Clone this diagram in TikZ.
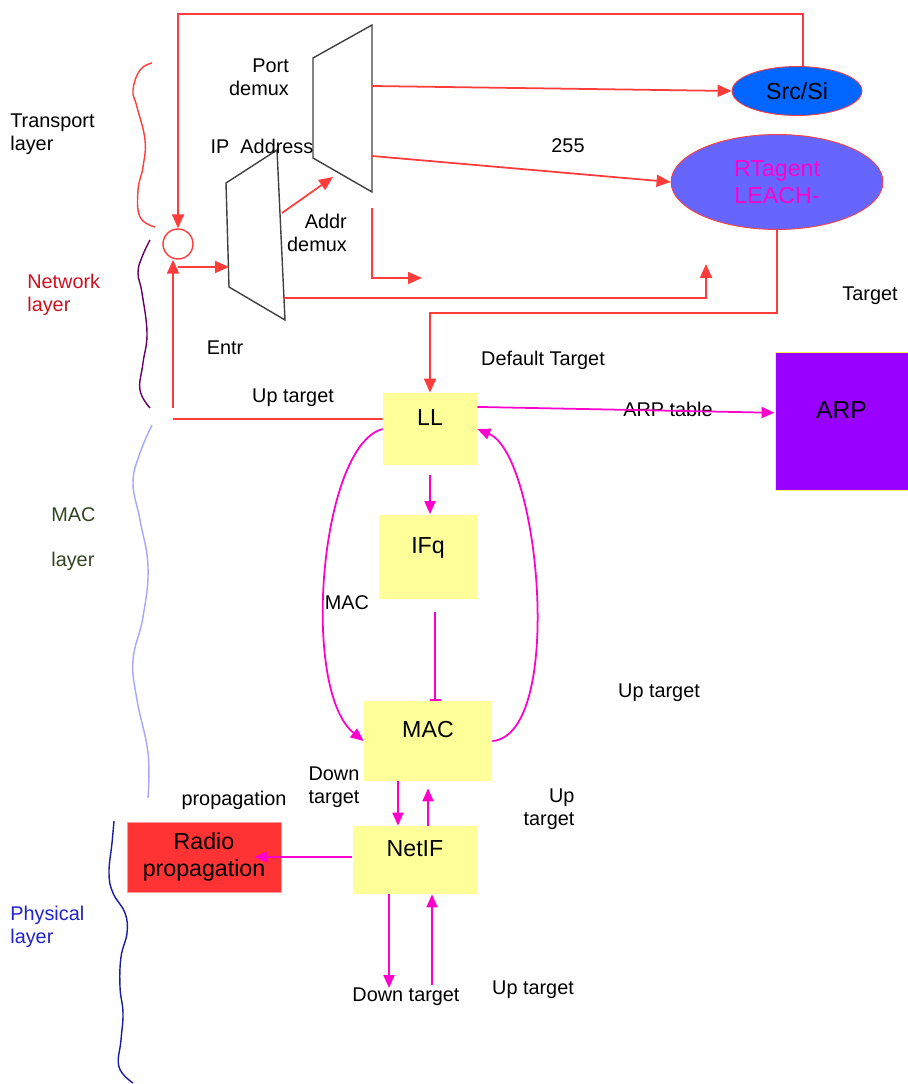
\documentclass[tikz,border=0pt]{standalone}
\usepackage{fontspec}
\setmainfont{Liberation Sans}
\usetikzlibrary{arrows.meta}
\usetikzlibrary{shapes}
\definecolor{LineRed}{RGB}{255,60,60}
\definecolor{LinePink}{RGB}{255,0,204}
\definecolor{BoxYellow}{RGB}{255,255,153}
\definecolor{ArpPurple}{RGB}{153,0,255}
\definecolor{SrcBlue}{RGB}{0,102,255}
\definecolor{AgentBlue}{RGB}{102,102,255}
\definecolor{RadioRed}{RGB}{255,51,51}
\definecolor{NetRed}{RGB}{204,17,34}
\definecolor{MacGreen}{RGB}{51,68,34}
\definecolor{PhyBlue}{RGB}{34,34,204}
\newcommand{\boxfont}{\fontsize{13.2pt}{15.5pt}\selectfont}
\tikzstyle{LayerBox}=[rectangle, fill=BoxYellow, inner sep=0pt, text height=0.35cm, text depth=0.5cm, font=\boxfont]
\tikzstyle{AgentNode}=[ellipse, draw=LineRed, line width=0.5pt, inner sep=0pt, font=\boxfont, align=center]
\tikzstyle{Junc}=[circle, draw=LineRed, line width=0.8pt, minimum size=0.6cm, inner sep=0pt]
\tikzstyle{Lbl}=[inner sep=0pt, align=center]
\tikzstyle{Demux}=[draw=black!75, line width=0.8pt]
\tikzstyle{RedEdge}=[draw=LineRed, line width=1pt]
\tikzstyle{RedArrow}=[RedEdge, -{Triangle[length=0.28cm, width=0.24cm]}]
\tikzstyle{PinkEdge}=[draw=LinePink, line width=1pt]
\tikzstyle{PinkArrow}=[PinkEdge, -{Triangle[length=0.26cm, width=0.22cm]}]
\tikzstyle{PinkBar}=[PinkEdge, -{Bar[width=0.22cm]}]

\begin{document}
\begin{tikzpicture}[x=0.02cm, y=-0.02cm, font=\fontsize{11.3pt}{13pt}\selectfont]
\useasboundingbox (0,0) rectangle (908,1084);

% layer names
\node[Lbl, anchor=west, align=left](lTrans) at (10,134) {Transport\\layer};
\node[Lbl, anchor=west, align=left, text=NetRed](lNet) at (27,295) {Network\\layer};
\node[Lbl, anchor=west, align=left, text=MacGreen](lMac) at (51,539) {MAC\\[0.45cm]layer};
\node[Lbl, anchor=west, align=left, text=PhyBlue](lPhy) at (10,927) {Physical\\layer};

% braces
\draw[LineRed, line width=0.8pt] plot[smooth, tension=0.7] coordinates {(152,63) (140,70) (133,90) (137,107) (145,140) (143,167) (138,190) (140,217) (155,227)};
\draw[violet!80!black, line width=0.8pt] plot[smooth, tension=0.7] coordinates {(150,240) (142,257) (138,273) (142,293) (147,333) (143,363) (140,390) (150,408)};
\draw[blue!35, line width=0.8pt] plot[smooth, tension=0.7] coordinates {(152,425) (140,453) (133,483) (140,520) (148,567) (143,617) (133,660) (137,700) (148,753) (148,798)};
\draw[PhyBlue!80!black, line width=0.8pt] plot[smooth, tension=0.7] coordinates {(114,821) (112,843) (109,873) (113,893) (125,913) (127,933) (121,957) (120,987) (123,1013) (121,1040) (119,1067) (133,1083)};

% demux blocks
\draw[Demux] (313,58) -- (372,25) -- (372,192) -- (313,158) -- cycle;
\draw[Demux] (226,183) -- (277,150) -- (285,320) -- (229,287) -- cycle;

\node[Junc](junc) at (178,244) {};
\node[AgentNode, fill=SrcBlue, minimum width=2.6cm, minimum height=0.98cm](SrcSi) at (797,91) {Src/Si};
\node[AgentNode, fill=AgentBlue, text=LinePink, minimum width=4.24cm, minimum height=1.9cm](RTagent) at (777,182) {RTagent\\LEACH-};

\node[LayerBox, minimum width=1.88cm, minimum height=1.44cm](LL) at (430,429) {LL};
\node[LayerBox, minimum width=1.96cm, minimum height=1.7cm](IFq) at (428,557) {IFq};
\node[LayerBox, minimum width=2.56cm, minimum height=1.6cm](MAC) at (428,741) {MAC};
\node[LayerBox, minimum width=2.5cm, minimum height=1.36cm](NetIF) at (415,860) {NetIF};
\node[rectangle, fill=RadioRed, draw=RadioRed!50!white, line width=0.5pt, minimum width=3.08cm, minimum height=1.4cm, inner sep=0pt, align=center, font=\boxfont](Radio) at (204,857) {Radio\\propagation};
\node[rectangle, fill=ArpPurple, draw=yellow!70, line width=0.5pt, minimum width=2.66cm, minimum height=2.76cm, inner sep=0pt, text height=0.35cm, text depth=0.44cm, font=\fontsize{14pt}{16pt}\selectfont](ARP) at (841.5,421) {ARP};

% labels
\node[Lbl, align=right](lblPort) at (259,77) {Port\\demux};
\node[Lbl](lblIP) at (262,146) {IP~~Address};
\node[Lbl, align=right](lblAddr) at (317,233) {Addr\\demux};
\node[Lbl](lbl255) at (568,146) {255};
\node[Lbl](lblTarget) at (870,296) {Target};
\node[Lbl](lblEntr) at (225,348) {Entr};
\node[Lbl](lblDefault) at (543,360) {Default Target};
\node[Lbl](lblUpLL) at (293,398) {Up target};
\node[Lbl](lblARP) at (668,409) {ARP table};
\node[Lbl](lblMAC) at (347,603) {MAC};
\node[Lbl](lblUpR) at (659,693) {Up target};
\node[Lbl, align=left](lblDown) at (334,787) {Down\\target};
\node[Lbl, align=right](lblUp) at (549,809) {Up\\target};
\node[Lbl](lblProp) at (234,800) {propagation};
\node[Lbl](lblDownB) at (406,997) {Down target};
\node[Lbl](lblUpB) at (533,990) {Up target};

% red paths
\coordinate (loopR) at (803,14);
\coordinate (upBase) at (173,408);
\coordinate (upLeft) at (173,419);
\coordinate (jOut) at (178,267);
\coordinate (ipIn) at (229,267);
\coordinate (ipUp) at (282,213);
\coordinate (portIn) at (333,177);
\coordinate (portA) at (372,86);
\coordinate (portB) at (372,156);
\coordinate (lTop) at (372,208);
\coordinate (lEnd) at (422,278);
\coordinate (ipOut) at (284,298);
\coordinate (rtUp) at (706,264);
\coordinate (rtTurn) at (777,313);

\draw[RedArrow] (SrcSi.north -| loopR) -- (loopR) -| (junc.north);
\draw[RedArrow] (upBase) -- (upBase |- junc.south);
\draw[RedEdge] (LL.168) -- (upLeft);
\draw[RedArrow] (jOut) -- (ipIn);
\draw[RedArrow] (ipUp) -- (portIn);
\draw[RedArrow] (portA) -- (SrcSi.west);
\draw[RedArrow] (portB) -- (RTagent.west);
\draw[RedArrow] (lTop) |- (lEnd);
\draw[RedArrow] (ipOut) -| (rtUp);
\draw[RedArrow] (RTagent.south) -- (rtTurn) -| (LL.north);

% pink paths
\coordinate (qOut) at (435,612);
\coordinate (dnEnd) at (389,988);
\coordinate (upStart) at (432,985);

\draw[PinkArrow] (LL.25) -- (ARP.173);
\draw[PinkArrow, shorten <=0.2cm] (LL.south) -- (LL.south |- IFq.north);
\draw[PinkBar] (qOut) -- (qOut |- MAC.north);
\draw[PinkArrow] (LL.west) .. controls (320,445) and (300,690) .. (MAC.west);
\draw[PinkArrow] (MAC.east) .. controls (565,735) and (540,455) .. (LL.east);
\draw[PinkArrow] (MAC.south -| 398,0) -- (NetIF.north -| 398,0);
\draw[PinkArrow, shorten >=0.14cm] (NetIF.north -| 428,0) -- (MAC.south -| 428,0);
\draw[PinkArrow, shorten >=-0.54cm] (NetIF.west |- Radio.east) -- (Radio.east);
\draw[PinkArrow] (NetIF.south -| dnEnd) -- (dnEnd);
\draw[PinkArrow] (upStart) -- (NetIF.south -| upStart);

\end{tikzpicture}
\end{document}
